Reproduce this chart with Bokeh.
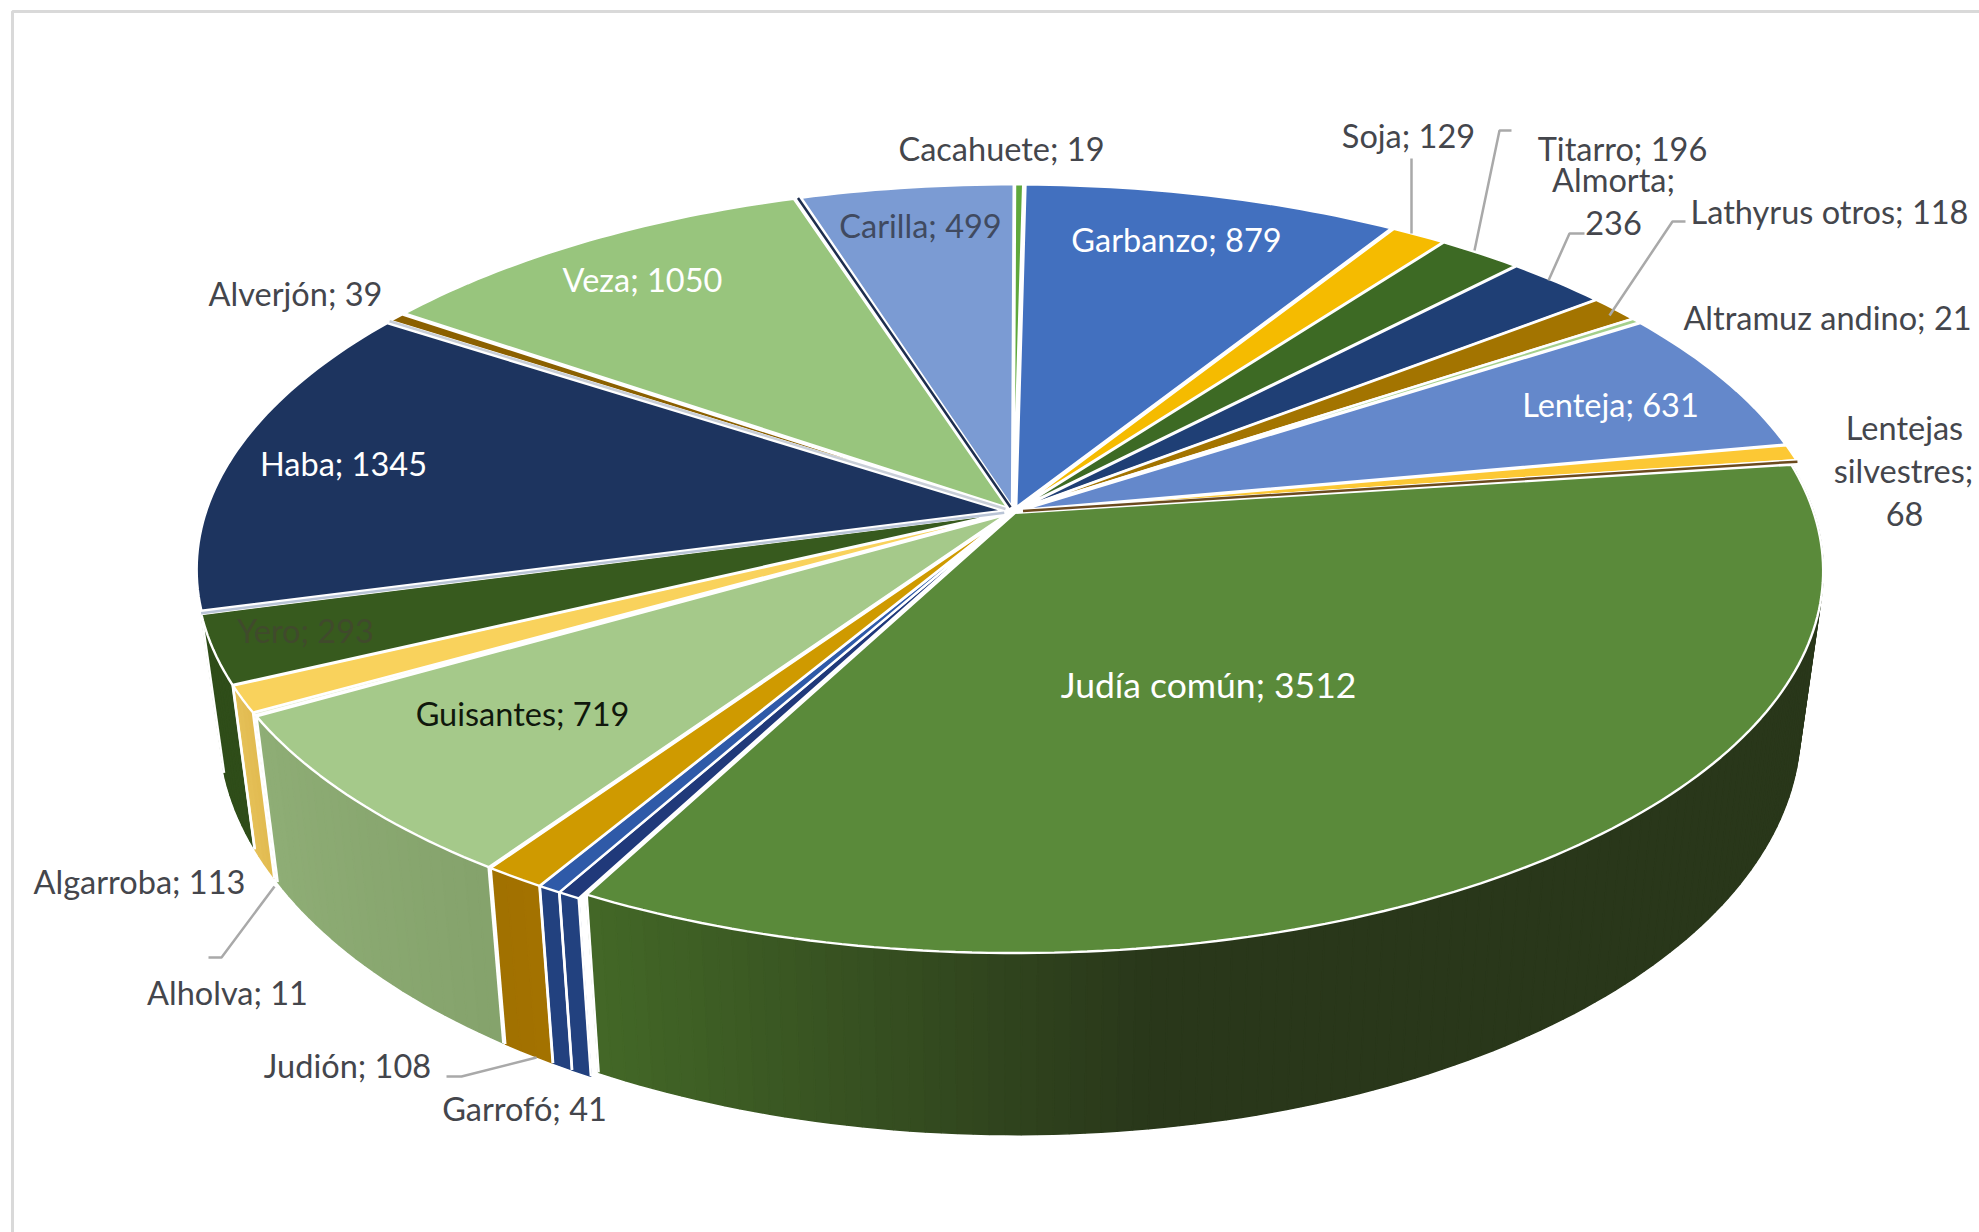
import numpy as np
from bokeh.core.properties import value
from bokeh.embed import file_html
from bokeh.models import ColumnDataSource
from bokeh.plotting import figure
from bokeh.resources import INLINE

# Legume species, clockwise from twelve o'clock. Empty names are thin slices without a label.
names = ["Garbanzo", "Soja", "Titarro", "Almorta", "Lathyrus otros", "Altramuz andino", "Lenteja",
         "Lentejas silvestres", "", "Judía común", "", "Garrofó", "Judión", "Guisantes", "Alholva",
         "Algarroba", "Yero", "", "Haba", "", "Alverjón", "Veza", "", "Carilla", "Cacahuete"]
counts = [879, 129, 196, 236, 118, 21, 631, 68, 12, 3512, 40, 41, 108, 719, 11, 113, 293, 3, 1345, 5,
          39, 1050, 8, 499, 19]

top_colors = ["#4270bf", "#f5bb00", "#3d6a24", "#1f3f75", "#a37400", "#a4d08c", "#6488cb", "#fcc834",
              "#6b4a1e", "#5a8a3a", "#20397a", "#2f5aa8", "#cf9a00", "#a5c98a", "#e4ecd0", "#f9d25c",
              "#375a1e", "#b9c4d6", "#1d345f", "#c9cfd8", "#8b6000", "#98c57d", "#1e2e4e", "#7b9bd3",
              "#5fa83c"]

# Front wall colours per slice position: (left end, right end) of the shading.
side_shades = {9: ("#436827", "#29371a"), 10: ("#22417f", "#22417f"), 11: ("#22417f", "#22417f"),
               12: ("#a37200", "#a07000"), 13: ("#85a36c", "#8fae76"), 15: ("#e2bc52", "#e7c25a"),
               16: ("#2f4d19", "#2f4d19")}

# Slices too thin to survive their white outline are redrawn as a line.
thin_slices = [8, 17, 19, 22]

# Label text, anchor centre, colour and font size.
labels = [
    ("Cacahuete; 19", 1001, 148, "#44464c", 32.5), ("Soja; 129", 1408, 135, "#44464c", 32.5),
    ("Titarro; 196", 1622, 148, "#44464c", 32.5), ("Almorta;", 1613, 179, "#44464c", 32.5),
    ("236", 1613, 222, "#44464c", 32.5), ("Lathyrus otros; 118", 1829, 211, "#44464c", 32.5),
    ("Altramuz andino; 21", 1827, 317, "#44464c", 32.5), ("Lenteja; 631", 1610, 404, "#ffffff", 32.5),
    ("Lentejas", 1904, 427, "#44464c", 32.5), ("silvestres;", 1903, 470, "#44464c", 32.5),
    ("68", 1904, 513, "#44464c", 32.5), ("Judía común; 3512", 1208, 684, "#ffffff", 35.5),
    ("Garbanzo; 879", 1176, 239, "#ffffff", 32.5), ("Carilla; 499", 920, 225, "#404a60", 32.5),
    ("Veza; 1050", 642, 279, "#ffffff", 32.5), ("Alverjón; 39", 295, 293, "#44464c", 32.5),
    ("Haba; 1345", 343, 463, "#ffffff", 32.5), ("Yero; 293", 305, 630, "#404a2c", 32.5),
    ("Guisantes; 719", 522, 713, "#10180c", 32.5), ("Algarroba; 113", 139, 881, "#44464c", 32.5),
    ("Alholva; 11", 227, 992, "#44464c", 32.5), ("Judión; 108", 347, 1065, "#44464c", 32.5),
    ("Garrofó; 41", 524, 1108, "#44464c", 32.5),
]

leader_xs = [[1411, 1411], [1511, 1499, 1474], [1584, 1569, 1548], [1685, 1672, 1609], [208, 221, 274], [446, 461, 536]]
leader_ys = [[158, 233], [130, 130, 250], [233, 233, 280], [221, 221, 315], [957, 957, 886], [1076, 1076, 1057]]

# Projection of the disc: a circle seen in perspective, and its lower rim.
CX, CY = 1013, 511
RX, RY, PERSP = 798, 373, 0.152
RIM_SX, RIM_SY, RIM_DY = 0.972, 1.067, 152
ROTATION = np.radians(0.8)
EXPLODE = 0.012
EXPLODE_LARGEST = 0.004


def top_xy(t, mid, r=1.0, gap=EXPLODE):
    u = r * np.sin(t) + gap * np.sin(mid)
    v = r * np.cos(t) + gap * np.cos(mid)
    d = 1 + PERSP * v
    return RX * u / d, -RY * v / d


def rim_xy(t, mid, gap=EXPLODE):
    x, y = top_xy(t, mid, gap=gap)
    return CX + x * RIM_SX, CY + y * RIM_SY + RIM_DY


def mix(c1, c2, f):
    a = [int(c1[i:i + 2], 16) for i in (1, 3, 5)]
    b = [int(c2[i:i + 2], 16) for i in (1, 3, 5)]
    return "#%02x%02x%02x" % tuple(int(round(p + (q - p) * f)) for p, q in zip(a, b))


shares = np.array(counts, dtype=float) / sum(counts)
edges = np.concatenate([[0.0], np.cumsum(shares)]) * 2 * np.pi + ROTATION
largest = int(np.argmax(counts))

side_x, side_y, side_c, side_key = [], [], [], []
top_x, top_y, top_c = [], [], []
seam_x, seam_y = [], []
thin_x, thin_y, thin_c = [], [], []

for i, color in enumerate(top_colors):
    a0, a1 = edges[i], edges[i + 1]
    mid = (a0 + a1) / 2
    gap = EXPLODE_LARGEST if i == largest else EXPLODE
    n = max(2, int((a1 - a0) / np.radians(1.0)) + 1)
    th = np.linspace(a0, a1, n)
    xs, ys = top_xy(th, mid, gap=gap)
    ax, ay = top_xy(mid, mid, 0.0, gap=gap)
    top_x.append([CX + ax, *(CX + xs)])
    top_y.append([CY + ay, *(CY + ys)])
    top_c.append(color)

    if i in thin_slices:
        ex, ey = top_xy(mid, mid, gap=gap)
        thin_x.append([CX + ax, CX + ex])
        thin_y.append([CY + ay, CY + ey])
        thin_c.append(color)

    if i in side_shades:
        shade_a, shade_b = side_shades[i]
        for t0, t1 in zip(th[:-1], th[1:]):
            x0, y0 = top_xy(t0, mid, gap=gap)
            x1, y1 = top_xy(t1, mid, gap=gap)
            bx0, by0 = rim_xy(t0, mid, gap=gap)
            bx1, by1 = rim_xy(t1, mid, gap=gap)
            sx = [CX + x0, CX + x1, bx1, bx0]
            sy = [CY + y0, CY + y1, by1, by0]
            if i == largest:
                f = np.clip((np.mean(sx) - 590) / 560, 0, 1)
            else:
                f = (t0 - a0) / (a1 - a0)
            side_x.append(sx)
            side_y.append(sy)
            side_c.append(mix(shade_a, shade_b, f))
            side_key.append(abs(mid - np.pi))
        for t in (a0, a1):
            x0, y0 = top_xy(t, mid, gap=gap)
            bx0, by0 = rim_xy(t, mid, gap=gap)
            seam_x.append([CX + x0, bx0])
            seam_y.append([CY + y0, by0])

order = np.argsort(side_key)[::-1]

p = figure(width=1979, height=1232, x_range=(0, 1979), y_range=(1232, 0), toolbar_location=None,
           output_backend="svg", min_border=0, outline_line_color=None, background_fill_color="#ffffff",
           border_fill_color="#ffffff")
p.axis.visible = False
p.grid.visible = False

# Frame of the chart area
p.line([1979, 12, 12], [11, 11, 1232], line_color="#d9d9d9", line_width=3)

p.patches(
    "xs", "ys", fill_color="c", line_color="c", line_width=1.5,
    source=ColumnDataSource(dict(
        xs=[side_x[j] for j in order], ys=[side_y[j] for j in order], c=[side_c[j] for j in order])),
)
p.multi_line(seam_x, seam_y, line_color="#ffffff", line_width=2.5)
p.patches(
    "xs", "ys", fill_color="c", line_color="#ffffff", line_width=2.4,
    source=ColumnDataSource(dict(xs=top_x, ys=top_y, c=top_c)),
)
p.multi_line("xs", "ys", line_color="c", line_width=2.5,
             source=ColumnDataSource(dict(xs=thin_x, ys=thin_y, c=thin_c)))

p.multi_line(leader_xs, leader_ys, line_color="#a9a9a9", line_width=2.5)

p.text(
    x="x", y="y", text="t", text_color="c", text_align="center", text_baseline="middle",
    text_font=value("Lato"), text_font_size="s",
    source=ColumnDataSource(dict(
        x=[l[1] for l in labels], y=[l[2] for l in labels], t=[l[0] for l in labels],
        c=[l[3] for l in labels], s=["%spx" % l[4] for l in labels])),
)

open("out.html", "w").write(file_html(p, INLINE))
